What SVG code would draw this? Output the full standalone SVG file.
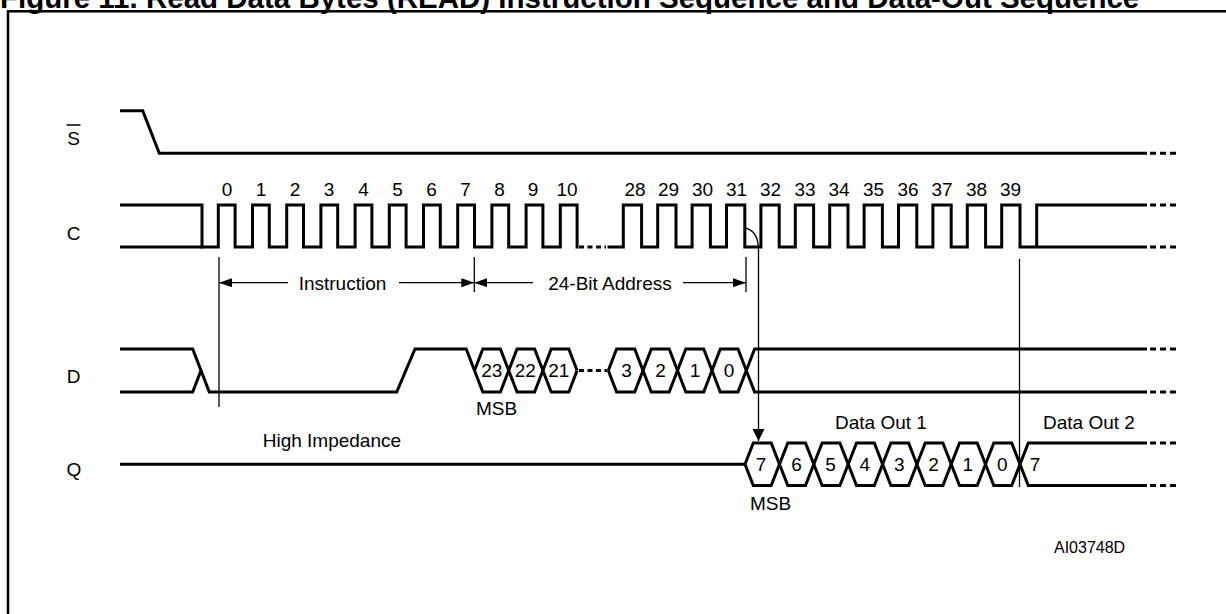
<svg xmlns="http://www.w3.org/2000/svg" width="1226" height="614" viewBox="0 0 1226 614">
<style>
.sig{fill:none;stroke:#000;stroke-width:3;stroke-linejoin:miter;stroke-linecap:butt}
.dash{fill:none;stroke:#000;stroke-width:3;stroke-dasharray:6 4}
.thin{fill:none;stroke:#000;stroke-width:1.3}
.t{font-family:"Liberation Sans",Arial,sans-serif;font-size:19px;fill:#000}
.m{text-anchor:middle}
.title{font-family:"Liberation Sans",Arial,sans-serif;font-size:29.5px;font-weight:bold;fill:#000}
</style>
<defs>
<marker id="ah" viewBox="0 0 13 9" refX="13" refY="4.5" markerWidth="13" markerHeight="9" markerUnits="userSpaceOnUse" orient="auto">
<path d="M0,0 L13,4.5 L0,9 Z" fill="#000"/>
</marker>
<marker id="ahb" viewBox="0 0 12 12" refX="12" refY="6" markerWidth="12" markerHeight="12" markerUnits="userSpaceOnUse" orient="auto">
<path d="M0,0 L12,6 L0,12 Z" fill="#000"/>
</marker>
</defs>
<rect width="1226" height="614" fill="#fff"/>
<text class="title" x="0" y="8">Figure 11. Read Data Bytes (READ) Instruction Sequence and Data-Out Sequence</text>
<rect x="8" y="11.3" width="1300" height="700" fill="none" stroke="#000" stroke-width="2.5"/>

<g id="signal-S">
<text class="t m" x="73.5" y="145">S</text>
<line x1="66.7" y1="125" x2="80.5" y2="125" stroke="#000" stroke-width="1.5"/>
<path class="sig" d="M120,110.7 H142.7 L159.3,153.3 H1147"/>
<path class="dash" d="M1150,153.3 H1179"/>
</g>

<g id="signal-C">
<text class="t m" x="73.5" y="239.5">C</text>
<path class="sig" d="M120,247 H203"/>
<path class="sig" d="M120,205 H202 V247 H218.3 V205 H235.1 V247 H252.5 V205 H269.3 V247 H286.7 V205 H303.5 V247 H320.9 V205 H337.7 V247 H355.1 V205 H371.9 V247 H389.3 V205 H406.1 V247 H423.5 V205 H440.3 V247 H457.7 V205 H474.5 V247 H491.9 V205 H508.7 V247 H526.1 V205 H542.9 V247 H560.3 V205 H577.1 V247 H578.5"/>
<path class="sig" d="M579,247 H606" stroke-dasharray="5 3.5"/>
<path class="sig" d="M607.5,247 H623.3 V205 H641.6 V247 H657.7 V205 H676 V247 H692.1 V205 H710.4 V247 H726.5 V205 H744.8 V247 H760.9 V205 H779.2 V247 H795.3 V205 H813.6 V247 H829.7 V205 H848 V247 H864.1 V205 H882.4 V247 H898.5 V205 H916.8 V247 H932.9 V205 H951.2 V247 H967.3 V205 H985.6 V247 H1001.7 V205 H1020 V247 H1147"/>
<path class="sig" d="M1036.7,247 V205 H1147"/>
<path class="dash" d="M1150,205 H1179 M1150,247 H1179"/>
<g class="t m">
<text x="227" y="196">0</text><text x="261" y="196">1</text><text x="295" y="196">2</text><text x="329" y="196">3</text><text x="363.5" y="196">4</text><text x="397.5" y="196">5</text><text x="431.5" y="196">6</text><text x="465.5" y="196">7</text><text x="499.5" y="196">8</text><text x="533" y="196">9</text><text x="567" y="196">10</text>
<text x="635" y="196">28</text><text x="668.5" y="196">29</text><text x="702.5" y="196">30</text><text x="736.5" y="196">31</text><text x="770.5" y="196">32</text><text x="805" y="196">33</text><text x="839" y="196">34</text><text x="873.5" y="196">35</text><text x="908" y="196">36</text><text x="942" y="196">37</text><text x="976.5" y="196">38</text><text x="1010.5" y="196">39</text>
</g>
</g>

<g id="signal-D">
<text class="t m" x="73.5" y="383.3">D</text>
<path class="sig" d="M120,349 H192.7 L209.3,392 H396.7 L415,349 H466.2 L482.8,392 H500.4 L517,349 H534.6 L551.2,392 H568.8 L577.1,370.5"/>
<path class="sig" d="M120,392 H192.7 L201,370.5"/>
<path class="sig" d="M474.5,370.5 L482.8,349 H500.4 L517,392 H534.6 L551.2,349 H568.8 L577.1,370.5"/>
<path class="sig" d="M579,370.5 H607" stroke-dasharray="5 3.5"/>
<path class="sig" d="M608.3,370.5 L616.6,349 H634.7 L651.3,392 H669.2 L685.8,349 H703.7 L720.3,392 H738 L754.6,349 H1147"/>
<path class="sig" d="M608.3,370.5 L616.6,392 H634.7 L651.3,349 H669.2 L685.8,392 H703.7 L720.3,349 H738 L754.6,392 H1147"/>
<path class="dash" d="M1150,349 H1179 M1150,392 H1179"/>
<g class="t m">
<text x="491.7" y="377">23</text><text x="525.3" y="377">22</text><text x="558.7" y="377">21</text><text x="626.5" y="377">3</text><text x="660.5" y="377">2</text><text x="695" y="377">1</text><text x="729" y="377">0</text>
</g>
<text class="t" x="476" y="415">MSB</text>
</g>

<g id="signal-Q">
<text class="t m" x="74" y="475.5">Q</text>
<path class="sig" d="M120,464.25 H745"/>
<path class="sig" d="M745,464.25 L753.3,443 H771.2 L787.8,485.5 H805.5 L822.1,443 H839.9 L856.5,485.5 H874.3 L890.9,443 H908.6 L925.2,485.5 H942.9 L959.5,443 H977.2 L993.8,485.5 H1011.7 L1028.3,443 H1147"/>
<path class="sig" d="M745,464.25 L753.3,485.5 H771.2 L787.8,443 H805.5 L822.1,485.5 H839.9 L856.5,443 H874.3 L890.9,485.5 H908.6 L925.2,443 H942.9 L959.5,485.5 H977.2 L993.8,443 H1011.7 L1028.3,485.5 H1147"/>
<path class="dash" d="M1150,443 H1179 M1150,485.5 H1179"/>
<g class="t m">
<text x="761" y="470.5">7</text><text x="796.5" y="470.5">6</text><text x="830.5" y="470.5">5</text><text x="864.8" y="470.5">4</text><text x="899.3" y="470.5">3</text><text x="933.5" y="470.5">2</text><text x="967.8" y="470.5">1</text><text x="1002.2" y="470.5">0</text><text x="1035" y="470.5">7</text>
</g>
<text class="t" x="262.7" y="446.7">High Impedance</text>
<text class="t m" x="881" y="429.3">Data Out 1</text>
<text class="t m" x="1089" y="429.3">Data Out 2</text>
<text class="t" x="750" y="510">MSB</text>
</g>

<g id="connectors">
<line class="thin" x1="219" y1="257" x2="219" y2="407"/>
<line class="thin" x1="474.3" y1="257" x2="474.3" y2="292"/>
<line class="thin" x1="746" y1="257" x2="746" y2="292"/>
<line class="thin" x1="1019.5" y1="259" x2="1019.5" y2="487"/>
<path class="thin" d="M288,282.7 H219" marker-end="url(#ah)"/>
<path class="thin" d="M399,282.7 H474.3" marker-end="url(#ah)"/>
<path class="thin" d="M533,282.7 H474.3" marker-end="url(#ah)"/>
<path class="thin" d="M683,282.7 H746" marker-end="url(#ah)"/>
<text class="t m" x="342.5" y="290">Instruction</text>
<text class="t m" x="610" y="290">24-Bit Address</text>
<path class="thin" d="M745.5,228 C753,230 758.5,237 758.5,250 V441" marker-end="url(#ahb)"/>
</g>

<text id="ref" x="1054" y="553" style="font-family:'Liberation Sans',Arial,sans-serif;font-size:16px">AI03748D</text>
</svg>
